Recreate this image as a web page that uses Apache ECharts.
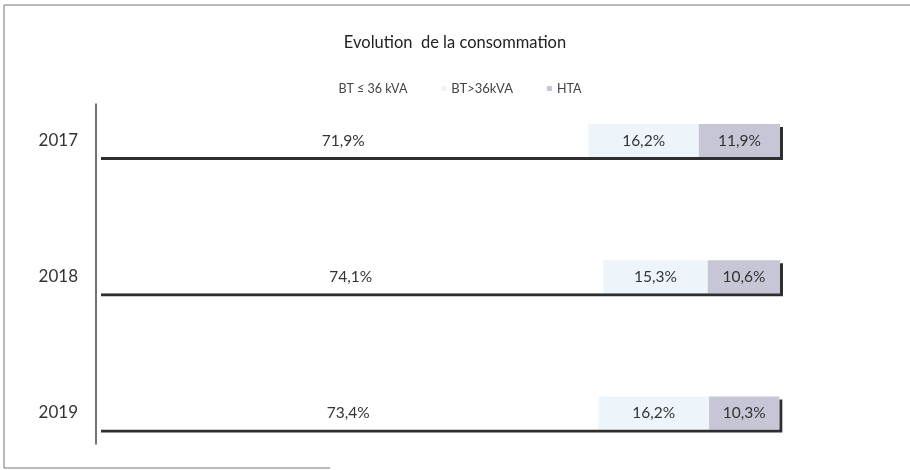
<!DOCTYPE html>
<html>
<head>
<meta charset="utf-8">
<script src="https://cdn.jsdelivr.net/npm/echarts@6/dist/echarts.min.js"></script>
<style>html,body{margin:0;padding:0;background:#fff}#c{width:910px;height:470px}</style>
</head>
<body>
<div id="c"></div>
<script>
const categories = ['2017', '2018', '2019'];
const seriesNames = ['BT ≤ 36 kVA', 'BT>36kVA', 'HTA'];
const btLow = [71.9, 74.1, 73.4];
const btHigh = [16.2, 15.3, 16.2];
const hta = [11.9, 10.6, 10.3];
const titleText = 'Evolution  de la consommation';

const colors = ['#ffffff', '#eef5fa', '#c6c6d6'];
const fmt = p => p.value.toFixed(1).replace('.', ',') + '%';
const font = 'Lato, "Open Sans", sans-serif';
const totals = btLow.map((v, i) => v + btHigh[i] + hta[i]);

function mk(name, data, color) {
  return {
    name, type: 'bar', stack: 'total', data, z: 3,
    barWidth: 33, barGap: '-100%',
    itemStyle: { color },
    label: { show: true, position: 'inside', formatter: fmt, color: '#333', fontSize: 15.5, fontFamily: font }
  };
}

const chart = echarts.init(document.getElementById('c'));
chart.setOption({
  animation: false,
  backgroundColor: '#fff',
  title: { text: titleText, left: 'center', top: 29, textStyle: { fontSize: 16.5, fontWeight: 'normal', color: '#222', fontFamily: font } },
  legend: {
    data: [
      { name: seriesNames[0], textStyle: { fontSize: 12.5 } },
      { name: seriesNames[1], textStyle: { fontSize: 13 } },
      { name: seriesNames[2], textStyle: { fontSize: 12.5 } }
    ],
    top: 77, left: 'center', itemWidth: 5, itemHeight: 5, itemGap: 34,
    icon: 'rect',
    textStyle: { fontSize: 12, color: '#444', fontFamily: font }
  },
  grid: [
    { left: 98, right: 130, top: 140.5, bottom: 57 },
    { left: 96, width: 1, top: 104, height: 340 }
  ],
  xAxis: [
    { type: 'value', min: 0, max: 100, show: false, gridIndex: 0 },
    { type: 'value', show: false, gridIndex: 1 }
  ],
  yAxis: [
    { type: 'category', data: categories, inverse: true, boundaryGap: false, gridIndex: 0,
      axisLine: { show: false }, axisTick: { show: false }, splitLine: { show: false },
      axisLabel: { color: '#333', fontSize: 17, margin: 20, fontFamily: font } },
    { type: 'value', min: 0, max: 1, gridIndex: 1,
      axisLine: { show: true, lineStyle: { color: '#444', width: 1.5 } },
      axisTick: { show: false }, axisLabel: { show: false }, splitLine: { show: false } }
  ],
  series: [
    { name: 'shadow', type: 'bar', stack: 'bg', data: totals, z: 1, silent: true,
      barWidth: 33, barGap: '-100%',
      itemStyle: { color: '#ffffff', shadowColor: 'rgba(35,35,35,0.95)', shadowOffsetX: 3, shadowOffsetY: 3, shadowBlur: 0 },
      label: { show: false } },
    mk(seriesNames[0], btLow, colors[0]),
    mk(seriesNames[1], btHigh, colors[1]),
    mk(seriesNames[2], hta, colors[2])
  ],
  graphic: [
    { type: 'polyline', shape: { points: [[910, 5], [4, 5], [4, 468], [330, 468]] }, style: { stroke: '#777', lineWidth: 1, fill: null }, silent: true }
  ]
});
</script>
</body>
</html>
